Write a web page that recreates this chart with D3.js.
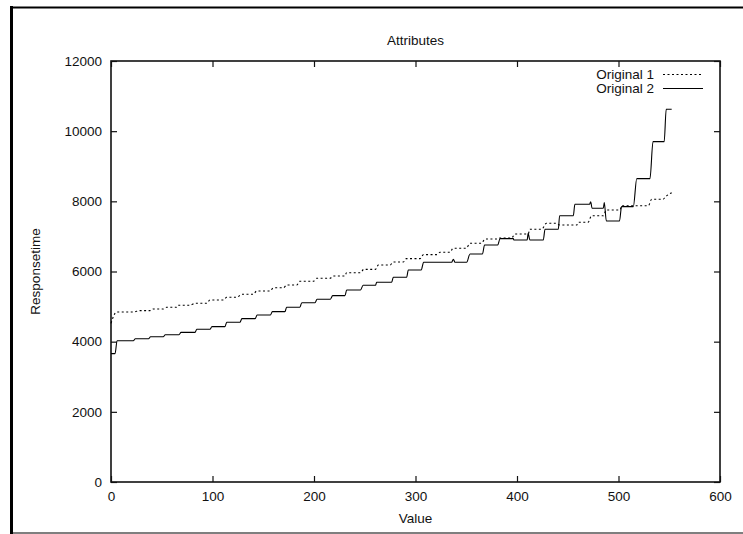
<!DOCTYPE html>
<html>
<head>
<meta charset="utf-8">
<script src="https://cdn.jsdelivr.net/npm/d3@7/dist/d3.min.js"></script>
<style>
  html, body { margin: 0; padding: 0; background: #fff; }
  svg { display: block; }
  text { font-family: "Liberation Sans", Arial, Helvetica, sans-serif; fill: #111; }
</style>
</head>
<body>
<svg id="chart" width="743" height="534"></svg>
<script>
// Axis ticks
const xTicks = [0, 100, 200, 300, 400, 500, 600];
const yTicks = [0, 2000, 4000, 6000, 8000, 10000, 12000];

// "Original 1": plateaus of the stepped response curve (start value, end value, responsetime)
const orig1Start = [0, 5.6, 28.6, 41.7, 54.8, 66, 82.8, 97.5, 114, 128.7, 143.5, 160, 173, 186, 202.6, 219, 232, 249, 263.4, 278, 291, 307.8, 324, 337, 353.7, 368.5, 383, 398, 412.7, 429, 442, 460.4, 473.5, 488, 503, 518, 532.7, 546, 552.4];
const orig1End   = [0, 22, 38.4, 51.5, 64.7, 77.8, 94.3, 110.7, 124, 140.2, 156.7, 170, 183, 199.3, 215.8, 230.5, 245.8, 260.6, 275, 288, 304.5, 320.9, 334, 350, 365, 381.6, 394.7, 411, 424.3, 439, 459, 470, 485, 501.5, 516.3, 529.4, 544, 546, 552.4];
const orig1Time  = [4523, 4846, 4884, 4931, 4979, 5036, 5093, 5188, 5264, 5350, 5445, 5535, 5616, 5721, 5806, 5872, 5966, 6062, 6186, 6271, 6366, 6480, 6547, 6661, 6804, 6927, 6955, 7069, 7203, 7374, 7326, 7402, 7591, 7753, 7876, 7876, 8058, 8120, 8247];

// "Original 2"
const orig2Start = [0, 6, 24, 39, 53.5, 69, 84.5, 99.5, 114, 129, 144, 159, 173, 188, 203, 218.4, 232.2, 248.4, 261.7, 278.1, 292.9, 308, 337.3, 338.9, 353.7, 368, 383.3, 396.9, 411, 412.7, 427.6, 442, 457, 472.6, 474, 486, 488, 503, 518, 534, 547];
const orig2End   = [4, 22, 37, 51.5, 67, 82.8, 97.5, 112.3, 127, 142, 157, 171.4, 186, 201, 216, 230.5, 245.8, 260.6, 276.5, 291.3, 305.6, 335.6, 337.3, 350.4, 366, 381, 396.4, 410, 411, 425.9, 440.7, 455.5, 471.5, 472.6, 485, 486, 501, 514.6, 531, 545, 552.4];
const orig2Time  = [3660, 4028, 4085, 4142, 4199, 4266, 4352, 4429, 4552, 4656, 4760, 4855, 4979, 5111, 5207, 5311, 5473, 5607, 5693, 5835, 6043, 6263, 6349, 6263, 6500, 6754, 6936, 6899, 7090, 6900, 7204, 7591, 7916, 7990, 7802, 7962, 7440, 7848, 8646, 9701, 10624];

const FONT = 13.5;
const svg = d3.select("#chart");

// Outer page frame (left, top, bottom edges)
svg.append("line").attr("x1", 11.5).attr("x2", 11.5).attr("y1", 6).attr("y2", 534)
  .attr("stroke", "#000").attr("stroke-width", 3);
svg.append("line").attr("x1", 10).attr("x2", 743).attr("y1", 7.5).attr("y2", 7.5)
  .attr("stroke", "#000").attr("stroke-width", 2);
svg.append("line").attr("x1", 10).attr("x2", 743).attr("y1", 533).attr("y2", 533)
  .attr("stroke", "#000").attr("stroke-width", 1.2);

const plotLeft = 111, plotRight = 720, plotTop = 61, plotBottom = 482;

const x = d3.scaleLinear().domain([0, 600]).range([plotLeft, plotRight]);
const y = d3.scaleLinear().domain([0, 12000]).range([plotBottom, plotTop]);

function styleAxis(g) {
  g.select(".domain").remove();
  g.selectAll(".tick line").attr("stroke", "#111").attr("stroke-width", 1.2);
  g.selectAll(".tick text").attr("font-size", FONT).attr("fill", "#111")
    .attr("font-family", "Liberation Sans, Arial, sans-serif");
}

svg.append("g").attr("transform", `translate(0,${plotBottom})`)
  .call(d3.axisBottom(x).tickValues(xTicks).tickFormat(d3.format("d")).tickSize(-6).tickPadding(9.5))
  .call(styleAxis);
svg.append("g").attr("transform", `translate(0,${plotTop})`)
  .call(d3.axisTop(x).tickValues(xTicks).tickFormat("").tickSize(-6))
  .call(styleAxis);
svg.append("g").attr("transform", `translate(${plotLeft},0)`)
  .call(d3.axisLeft(y).tickValues(yTicks).tickFormat(d3.format("d")).tickSize(-6).tickPadding(9))
  .call(styleAxis);
svg.append("g").attr("transform", `translate(${plotRight},0)`)
  .call(d3.axisRight(y).tickValues(yTicks).tickFormat("").tickSize(-6))
  .call(styleAxis);

// Plot border
svg.append("rect").attr("x", plotLeft).attr("y", plotTop)
  .attr("width", plotRight - plotLeft).attr("height", plotBottom - plotTop)
  .attr("fill", "none").attr("stroke", "#111").attr("stroke-width", 1.6);

// Turn plateau arrays into a point list
function plateauPoints(starts, ends, times) {
  const pts = [];
  starts.forEach((s, i) => {
    pts.push([s, times[i]]);
    if (ends[i] > s) pts.push([ends[i], times[i]]);
  });
  return pts;
}

const line = d3.line()
  .x(d => x(d[0]))
  .y(d => y(d[1]))
  .curve(d3.curveMonotoneX);

svg.append("path")
  .datum(plateauPoints(orig1Start, orig1End, orig1Time))
  .attr("d", line)
  .attr("fill", "none").attr("stroke", "#000").attr("stroke-width", 1.1)
  .attr("stroke-dasharray", "2,2.5");

svg.append("path")
  .datum(plateauPoints(orig2Start, orig2End, orig2Time))
  .attr("d", line)
  .attr("fill", "none").attr("stroke", "#000").attr("stroke-width", 1.1);

// Legend
const legend = svg.append("g");
[["Original 1", "2,2.5", 74.5], ["Original 2", null, 88.5]].forEach(([label, dash, ly]) => {
  legend.append("text").attr("x", 654).attr("y", ly + 4.8)
    .attr("text-anchor", "end").attr("font-size", FONT).text(label);
  const l = legend.append("line").attr("x1", 663).attr("x2", 703)
    .attr("y1", ly).attr("y2", ly)
    .attr("stroke", "#000").attr("stroke-width", 1.1);
  if (dash) l.attr("stroke-dasharray", dash);
});

// Titles
svg.append("text").attr("x", (plotLeft + plotRight) / 2).attr("y", 45)
  .attr("text-anchor", "middle").attr("font-size", FONT).text("Attributes");
svg.append("text").attr("x", (plotLeft + plotRight) / 2).attr("y", 523)
  .attr("text-anchor", "middle").attr("font-size", FONT).text("Value");
svg.append("text")
  .attr("transform", `translate(40,${(plotTop + plotBottom) / 2}) rotate(-90)`)
  .attr("text-anchor", "middle").attr("font-size", FONT).text("Responsetime");
</script>
</body>
</html>
